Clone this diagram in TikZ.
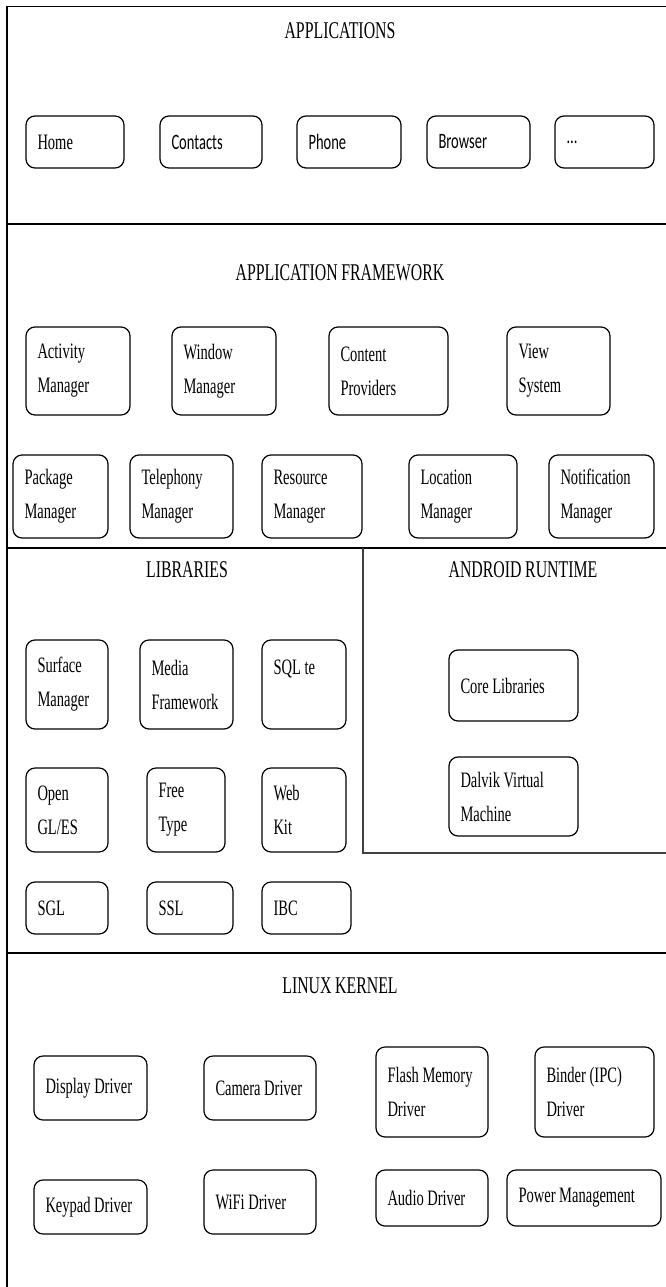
\documentclass[tikz,border=0pt]{standalone}
\usepackage{fontspec}
\setmainfont{Liberation Serif}[FakeStretch=0.66]
\newfontfamily\appfont{Carlito}[FakeStretch=0.66]
\usepackage{tikz}
\usetikzlibrary{positioning}
\tikzset{
  box/.style={draw=black,line width=1.2pt,rounded corners=9pt,anchor=north west,align=left,inner xsep=11.5pt,inner ysep=0pt,outer sep=0pt,font=\fontsize{22}{34}\selectfont,execute at begin node={\spaceskip=3.6pt plus 1pt minus .5pt\relax}},
  layer/.style={anchor=base,inner sep=0pt,font=\fontsize{24}{28}\selectfont,execute at begin node={\spaceskip=3.6pt plus 1pt minus .5pt\relax}},
  sepline/.style={line width=1.8pt},
  divline/.style={line width=1.1pt,black!75},
}

\begin{document}
\begin{tikzpicture}[x=1pt,y=-1pt]
\useasboundingbox (0,0) rectangle (666,1287);
% frame and layer borders
\draw[line width=1.5pt] (7,1287) -- (7,6.5) -- (666,6.5);
\draw[sepline] (7,224) -- (666,224);
\draw[sepline] (7,548) -- (666,548);
\draw[sepline] (7,953) -- (666,953);
\draw[divline] (363,548) -- (363,853) -- (666,853);
% layer titles
\node[layer] (tapps) at (340,39) {APPLICATIONS};
\node[layer] (tframe) at (340,280) {APPLICATION FRAMEWORK};
\node[layer] (tlibs) at (187,577) {LIBRARIES};
\node[layer] (truntime) at (523,577) {ANDROID RUNTIME};
\node[layer] (tkernel) at (340,993) {LINUX KERNEL};
% all blocks: name / left / right / top / bottom / text
\foreach \n/\xa/\xb/\ya/\yb/\t in {
  home/26/124/116/168/{Home},
  contacts/160/262/116/168/{\appfont Contacts},
  phone/297/401/116/168/{\appfont Phone},
  browser/427/530/116/168/{\appfont Browser},
  more/555/654/116/168/{\appfont ...},
  activity/26/130/327/415/{Activity\\Manager},
  window/172/276/327/415/{Window\\Manager},
  content/329/448/327/415/{Content\\Providers},
  view/507/610/327/415/{View\\System},
  package/13/108/455/538/{Package\\Manager},
  telephony/130/233/455/538/{Telephony\\Manager},
  resource/262/362/455/538/{Resource\\Manager},
  location/409/517/455/538/{Location\\Manager},
  notification/549/654/455/538/{Notification\\Manager},
  surface/26/108/640/729/{Surface\\Manager},
  media/140/233/640/729/{Media\\Framework},
  sqlite/262/346/640/729/{SQL~te\\\mbox{}},
  opengl/26/108/768/852/{Open\\GL/ES},
  freetype/147/225/768/852/{Free\\Type},
  webkit/262/346/768/852/{Web\\Kit},
  sgl/26/108/882/934/{SGL},
  ssl/147/233/882/934/{SSL},
  ibc/262/351/882/934/{IBC},
  core/449/578/650/721/{Core~Libraries},
  dalvik/449/578/757/836/{Dalvik~Virtual\\Machine},
  display/34/147/1056/1120/{Display~Driver},
  camera/204/316/1056/1120/{Camera~Driver},
  flash/376/488/1047/1137/{Flash~Memory\\Driver},
  binder/535/654/1047/1137/{Binder~(IPC)\\Driver},
  keypad/34/147/1180/1234/{Keypad~Driver},
  wifi/204/316/1170/1234/{WiFi~Driver},
  audio/376/488/1170/1226/{Audio~Driver},
  power/507/661/1170/1226/{Power~Management}} {
  \pgfmathsetmacro\bw{\xb-\xa}
  \pgfmathsetmacro\bh{\yb-\ya}
  \pgfmathsetmacro\tw{\xb-\xa-23}
  \node[box,minimum width=\bw pt,minimum height=\bh pt,text width=\tw pt] (\n) at (\xa,\ya) {\t};
}
\end{tikzpicture}
\end{document}
